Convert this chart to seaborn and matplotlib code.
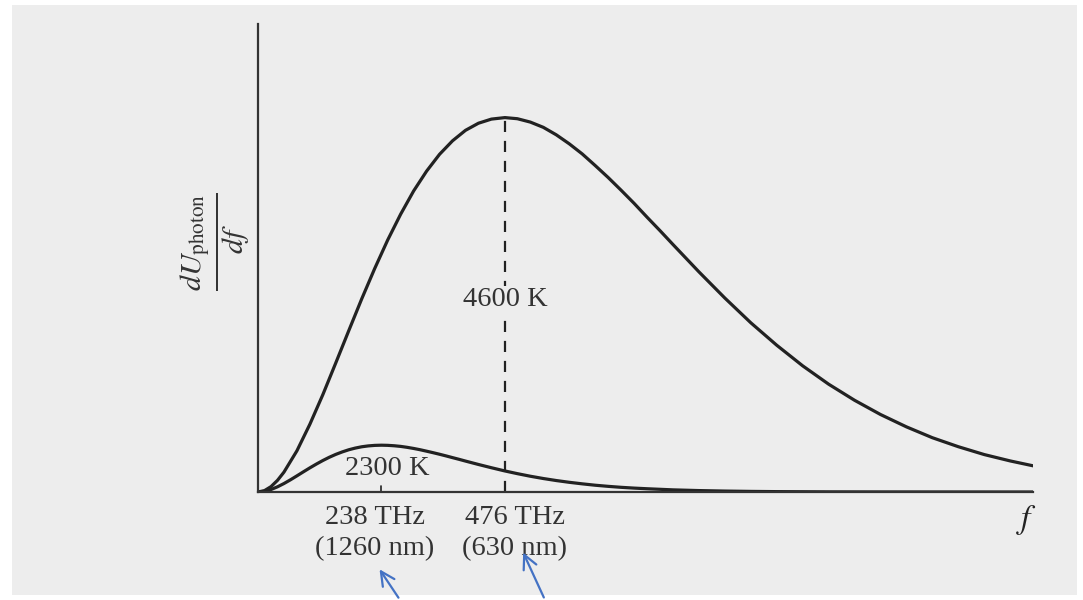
import matplotlib
matplotlib.use("Agg")
import matplotlib.pyplot as plt
import seaborn as sns
import pandas as pd
from matplotlib.patches import Rectangle

# ---------- data (arbitrary units, 4600 K peak = 1) ----------
freq_4600 = [0, 12.5, 25, 37.5, 50, 75, 100, 125, 150, 175, 200, 225, 250, 275, 300,
             325, 350, 375, 400, 425, 450, 476, 500, 525, 550, 575, 600, 625, 650,
             675, 700, 725, 750, 775, 800, 850, 900, 950, 1000, 1050, 1100, 1150,
             1200, 1250, 1300, 1350, 1400, 1450, 1494]
u_4600 = [0.0, 0.0037, 0.0143, 0.031, 0.053, 0.110, 0.181, 0.260, 0.345, 0.431, 0.516,
          0.597, 0.673, 0.742, 0.804, 0.857, 0.902, 0.938, 0.966, 0.985, 0.996, 1.0,
          0.997, 0.988, 0.974, 0.954, 0.930, 0.903, 0.872, 0.840, 0.806, 0.771, 0.734,
          0.698, 0.661, 0.588, 0.518, 0.452, 0.392, 0.337, 0.288, 0.245, 0.207, 0.174,
          0.145, 0.121, 0.100, 0.083, 0.070]

freq_2300 = [0, 12.5, 25, 37.5, 50, 62.5, 75, 87.5, 100, 112.5, 125, 137.5, 150, 162.5,
             175, 187.5, 200, 212.5, 225, 238, 250, 262.5, 275, 287.5, 300, 312.5, 325,
             337.5, 350, 362.5, 375, 387.5, 400, 425, 450, 475, 500, 525, 550, 575,
             600, 625, 650, 675, 700, 725, 750, 800, 850, 900, 950, 1000, 1100, 1200,
             1494]
u_2300 = [0.0, 0.0018, 0.0066, 0.0138, 0.0226, 0.0325, 0.0431, 0.0539, 0.0645, 0.0746,
          0.0841, 0.0928, 0.1005, 0.1071, 0.1128, 0.1173, 0.1208, 0.1231, 0.1245, 0.125,
          0.1246, 0.1235, 0.1218, 0.1193, 0.1163, 0.1129, 0.109, 0.105, 0.1008, 0.0964,
          0.0918, 0.0873, 0.0826, 0.0735, 0.0648, 0.0565, 0.049, 0.0421, 0.036, 0.0306,
          0.0259, 0.0218, 0.0181, 0.0151, 0.0125, 0.0104, 0.0087, 0.0057, 0.0038,
          0.0025, 0.0016, 0.001, 0.0004, 0.0002, 0.0]

peak_4600 = 476
peak_2300 = 238
freq_labels = ["238 THz\n(1260 nm)", "476 THz\n(630 nm)"]

sns.set_theme(style="white")
plt.rcParams.update({
    "font.family": ["Liberation Serif", "DejaVu Serif"],
    "mathtext.fontset": "stix",
})

paper = "#ededed"
ink = "#222222"
text_col = "#333333"

df = pd.concat([
    pd.DataFrame({"f": freq_4600, "u": u_4600, "T": "4600 K"}),
    pd.DataFrame({"f": freq_2300, "u": u_2300, "T": "2300 K"}),
], ignore_index=True)

fig = plt.figure(figsize=(10.83, 6.0), dpi=100)
fig.patch.set_facecolor("white")
fig.patches.append(Rectangle((12 / 1083, 5 / 600), (1077 - 12) / 1083, (595 - 5) / 600,
                             transform=fig.transFigure, facecolor=paper,
                             edgecolor="none", zorder=-10))

ax = fig.add_axes([258 / 1083, 108 / 600, 775 / 1083, 468 / 600])
ax.set_facecolor("none")

sns.lineplot(data=df, x="f", y="u", units="T", estimator=None, color=ink,
             linewidth=2.3, ax=ax, legend=False, solid_joinstyle="round")

# dashed line under the 4600 K peak, small tick under the 2300 K peak
ax.plot([peak_4600, peak_4600], [0, 1.0], color=ink, linewidth=1.6,
        linestyle=(0, (5, 4)))
ax.plot([peak_2300, peak_2300], [0, 0.016], color=ink, linewidth=1.2)

ax.set_xlim(0, 1494)
ax.set_ylim(0, 1.25)
ax.set_xticks([])
ax.set_yticks([])
ax.set_xlabel("")
ax.set_ylabel("")
sns.despine(ax=ax)
for side in ["left", "bottom"]:
    ax.spines[side].set_color("#333333")
    ax.spines[side].set_linewidth(1.6)

ax.text(476, 0.513, "4600 K", ha="center", va="center", fontsize=20.5, color=text_col,
        bbox=dict(facecolor=paper, edgecolor="none", pad=1))
ax.text(249, 0.062, "2300 K", ha="center", va="center", fontsize=20.5, color=text_col,
        bbox=dict(facecolor=paper, edgecolor="none", pad=0.3))

for x, lab in zip([225, 495], freq_labels):
    ax.text(x, -0.11, lab, ha="center", va="center", fontsize=20.5, color=text_col,
            linespacing=1.3, clip_on=False)

ax.text(1482, -0.075, "$f$", ha="center", va="center", fontsize=24, color=ink,
        clip_on=False)
ax.text(-83, 0.668, r"$\frac{dU_{\mathrm{photon}}}{df}$", rotation=90,
        ha="center", va="center", fontsize=31, color=text_col, clip_on=False)

# blue arrows added on the scan
for head, tail in [((378, 33), (400, 0)), ((522, 50), (545, 0))]:
    ax.annotate("", xy=head, xytext=tail, xycoords="figure pixels",
                textcoords="figure pixels", annotation_clip=False,
                arrowprops=dict(arrowstyle="->", color="#4472C4",
                                lw=1.6, mutation_scale=25))

fig.savefig("out.png", dpi=100, facecolor=fig.get_facecolor())
